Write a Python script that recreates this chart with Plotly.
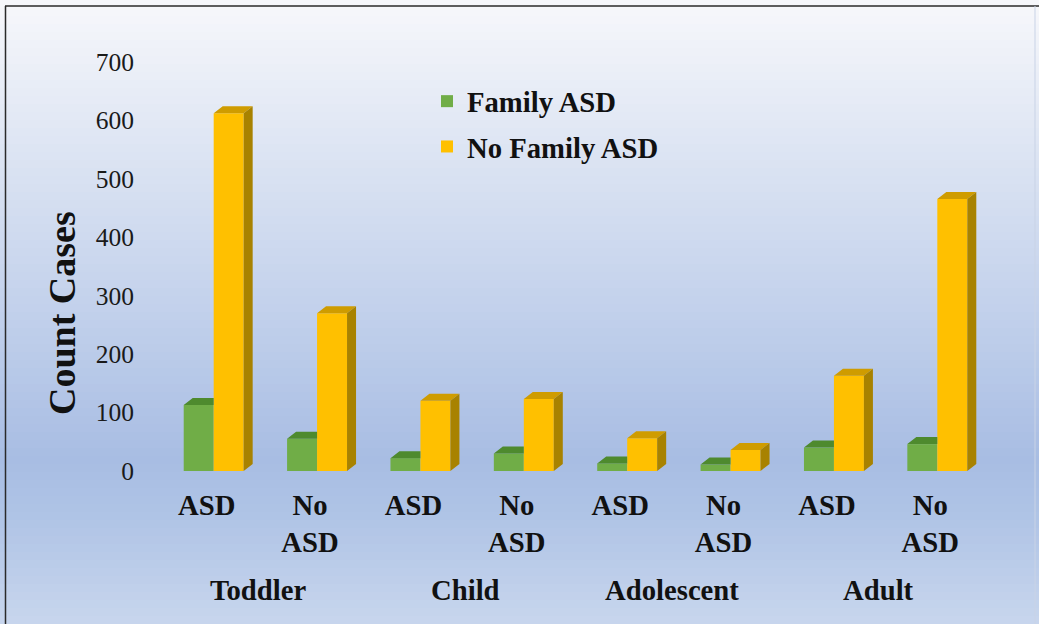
import plotly.graph_objects as go

# ---------------- data ----------------
groups = ["Toddler", "Child", "Adolescent", "Adult"]
sub_labels = ["ASD", "No<br>ASD", "ASD", "No<br>ASD", "ASD", "No<br>ASD", "ASD", "No<br>ASD"]
family_asd = [113, 55, 22, 30, 13, 11, 40, 46]
no_family_asd = [612, 270, 120, 123, 56, 36, 163, 465]
y_ticks = [0, 100, 200, 300, 400, 500, 600, 700]

# ---------------- layout geometry ----------------
W, H = 1039, 624
ML, MR, MT, MB = 162, 50, 50, 153
PW, PH = W - ML - MR, H - MT - MB
YMAX = 720

def px_to_paper_x(px):
    return (px - ML) / PW

def px_to_paper_y(py):
    return (H - MB - py) / PH

x_pos = list(range(len(sub_labels)))
bargap = 0.42
bw = (1 - bargap) / 2          # width of one bar in x units
dx = 9 / (PW / len(x_pos))     # depth offset (x units)
dy = 7 / (PH / YMAX)           # depth offset (y units)

GREEN, GREEN_TOP = "#70AD47", "#4E8A2E"
YEL, YEL_TOP, YEL_SIDE = "#FFC000", "#CF9C00", "#A88200"
SERIF = "Liberation Serif, Times New Roman, serif"
LBL = 28.7

fig = go.Figure()
fig.add_trace(go.Bar(x=x_pos, y=family_asd, name="Family ASD", marker=dict(color=GREEN, line=dict(width=0)),
                     legendgroup="a"))
fig.add_trace(go.Bar(x=x_pos, y=no_family_asd, name="No Family ASD", marker=dict(color=YEL, line=dict(width=0)),
                     legendgroup="b"))

# 3D faces derived from data values
gx, gy, tx, ty, sx, sy = [], [], [], [], [], []
for i, (g, y) in enumerate(zip(family_asd, no_family_asd)):
    # green top face (clipped at the yellow bar's left edge)
    gx += [i - bw, i, i, i - bw + dx, i - bw, None]
    gy += [g, g, g + dy, g + dy, g, None]
    # yellow top face
    tx += [i, i + bw, i + bw + dx, i + dx, i, None]
    ty += [y, y, y + dy, y + dy, y, None]
    # yellow side face
    sx += [i + bw, i + bw, i + bw + dx, i + bw + dx, i + bw, None]
    sy += [0, y, y + dy, dy, 0, None]

for xs, ys, col in [(gx, gy, GREEN_TOP), (tx, ty, YEL_TOP), (sx, sy, YEL_SIDE)]:
    fig.add_trace(go.Scatter(x=xs, y=ys, mode="lines", fill="toself", fillcolor=col,
                             line=dict(width=0, color=col), showlegend=False, hoverinfo="skip"))

# background gradient (bands in paper coords)
stops = [(0, (247, 248, 251)), (150, (221, 229, 243)), (300, (196, 210, 236)),
         (460, (168, 189, 227)), (520, (176, 196, 230)), (624, (200, 214, 237))]

def color_at(py):
    for (p0, c0), (p1, c1) in zip(stops[:-1], stops[1:]):
        if p0 <= py <= p1:
            t = (py - p0) / (p1 - p0)
            return "rgb(%d,%d,%d)" % tuple(round(a + (b - a) * t) for a, b in zip(c0, c1))
    return "rgb(%d,%d,%d)" % stops[-1][1]

shapes = []
step = 8
for py in range(0, H, step):
    shapes.append(dict(type="rect", xref="paper", yref="paper", layer="below",
                       x0=px_to_paper_x(0), x1=px_to_paper_x(W),
                       y0=px_to_paper_y(py), y1=px_to_paper_y(min(py + step + 1, H)),
                       fillcolor=color_at(py + step / 2), line=dict(width=0)))
# border (top and left dark, right faint)
shapes.append(dict(type="line", xref="paper", yref="paper", x0=px_to_paper_x(5), x1=px_to_paper_x(W),
                   y0=px_to_paper_y(6), y1=px_to_paper_y(6), line=dict(color="#2a2a2a", width=1.5)))
shapes.append(dict(type="line", xref="paper", yref="paper", x0=px_to_paper_x(5.5), x1=px_to_paper_x(5.5),
                   y0=px_to_paper_y(6), y1=px_to_paper_y(H), line=dict(color="#2a2a2a", width=1.5)))
shapes.append(dict(type="line", xref="paper", yref="paper", x0=px_to_paper_x(1035), x1=px_to_paper_x(1035),
                   y0=px_to_paper_y(6), y1=px_to_paper_y(H), line=dict(color="#c9d3e6", width=1)))

annotations = []
for k, gname in enumerate(groups):
    annotations.append(dict(x=2 * k + 0.5 - 0.068, y=px_to_paper_y(590), xref="x", yref="paper",
                            text=gname, showarrow=False, xanchor="center", yanchor="middle",
                            font=dict(family=SERIF, size=LBL, color="#111", weight="bold")))
annotations.append(dict(x=px_to_paper_x(62), y=px_to_paper_y(313), xref="paper", yref="paper",
                        text="Count Cases", showarrow=False, textangle=-90,
                        xanchor="center", yanchor="middle",
                        font=dict(family=SERIF, size=38, color="#111", weight="bold")))

fig.update_layout(
    width=W, height=H,
    margin=dict(l=ML, r=MR, t=MT, b=MB),
    paper_bgcolor="white", plot_bgcolor="rgba(0,0,0,0)",
    barmode="group", bargap=bargap, bargroupgap=0,
    shapes=shapes, annotations=annotations,
    legend=dict(x=px_to_paper_x(427), y=px_to_paper_y(76), xanchor="left", yanchor="top",
                bgcolor="rgba(0,0,0,0)", tracegroupgap=5,
                font=dict(family=SERIF, size=LBL, color="#111", weight="bold")),
    xaxis=dict(range=[-0.5, len(x_pos) - 0.5], tickmode="array",
               tickvals=[i - 0.068 for i in x_pos], ticktext=sub_labels,
               showgrid=False, zeroline=False, showline=False, ticks="",
               ticklabelstandoff=14,
               tickfont=dict(family=SERIF, size=LBL, color="#111", weight="bold")),
    yaxis=dict(range=[0, YMAX], tickmode="array", tickvals=y_ticks,
               showgrid=False, zeroline=False, showline=False, ticks="",
               ticklabelstandoff=27,
               tickfont=dict(family=SERIF, size=25.5, color="#1a1a1a")),
    showlegend=True,
)

fig.write_html("out.html")
